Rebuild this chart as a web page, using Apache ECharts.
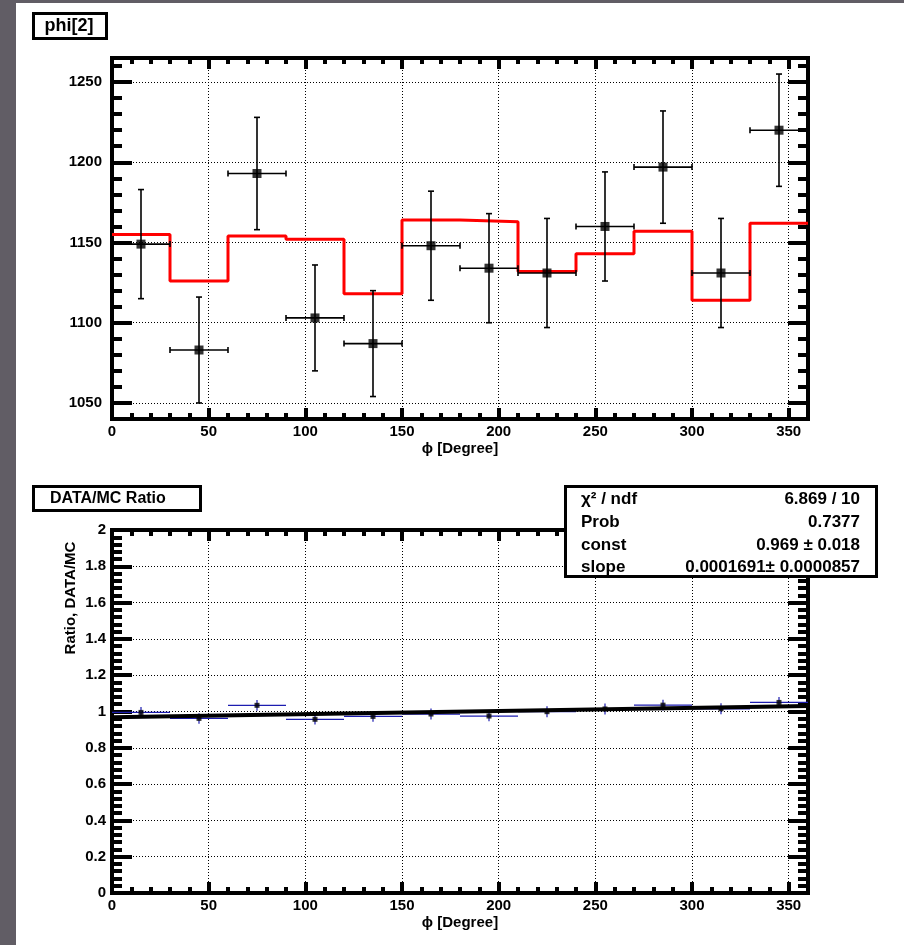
<!DOCTYPE html>
<html>
<head>
<meta charset="utf-8">
<script src="https://cdn.jsdelivr.net/npm/echarts@6/dist/echarts.min.js"></script>
<style>
  html, body { margin: 0; padding: 0; width: 904px; height: 945px; overflow: hidden; background: #615d65; }
  #chart { position: absolute; left: 16px; top: 3px; width: 888px; height: 942px; background: #ffffff; }
</style>
</head>
<body>
<div id="chart"></div>
<script>
// phi bin centres (degrees); every bin is 30 degrees wide
const phiBins = [15, 45, 75, 105, 135, 165, 195, 225, 255, 285, 315, 345];
const binHalfWidth = 15;

// measured counts per phi bin and their statistical errors
const dataCounts = [1149, 1083, 1193, 1103, 1087, 1148, 1134, 1131, 1160, 1197, 1131, 1220];
const dataErrors = [34, 33, 35, 33, 33, 34, 34, 34, 34, 35, 34, 35];

// Monte Carlo expectation per phi bin
const mcCounts = [1155, 1126, 1154, 1152, 1118, 1164, 1163, 1132, 1143, 1157, 1114, 1162];

// DATA/MC ratio per bin with errors
const ratioValues = [0.995, 0.962, 1.034, 0.957, 0.973, 0.986, 0.975, 0.999, 1.014, 1.035, 1.015, 1.050];
const ratioErrors = [0.030, 0.029, 0.030, 0.029, 0.030, 0.030, 0.029, 0.030, 0.030, 0.030, 0.030, 0.030];

// straight-line fit to the ratio: const + slope * phi
const fitConst = 0.969;
const fitSlope = 0.0001691;

// fit statistics box rows
const statsLabels = ['χ² / ndf', 'Prob', 'const', 'slope'];
const statsValues = ['6.869 / 10', '0.7377', '0.969 ± 0.018', '0.0001691± 0.0000857'];

// axis ranges and labelled ticks
const phiRange = [0, 360];
const phiTicks = [0, 50, 100, 150, 200, 250, 300, 350];
const countRange = [1040, 1265];
const countTicks = [1050, 1100, 1150, 1200, 1250];
const ratioRange = [0, 2];
const ratioTicks = [0, 0.2, 0.4, 0.6, 0.8, 1, 1.2, 1.4, 1.6, 1.8, 2];

const FONT = '"Liberation Sans", Arial, Helvetica, sans-serif';
const BLACK = '#000000';

const chart = echarts.init(document.getElementById('chart'), null, { renderer: 'canvas' });

// One framed axis side: a labelled "major" axis plus an overlaid axis carrying the short minor ticks.
function sideAxes(opts) {
  const major = {
    gridIndex: opts.grid,
    type: 'value',
    position: opts.position,
    min: opts.range[0],
    max: opts.range[1],
    axisLine: { show: true, onZero: false, lineStyle: { color: BLACK, width: 4, cap: 'square' } },
    axisTick: { show: true, inside: true, length: opts.majorLen, customValues: opts.ticks,
                lineStyle: { color: BLACK, width: 4 } },
    axisLabel: { show: !!opts.labels, customValues: opts.ticks, margin: opts.labelMargin || 6,
                 formatter: v => String(v),
                 color: BLACK, fontFamily: FONT, fontWeight: 'bold', fontSize: 15 },
    splitLine: { show: !!opts.gridLines, lineStyle: { color: BLACK, width: 1, type: [1, 2] } },
    minorTick: { show: false },
    minorSplitLine: { show: false },
    silent: true
  };
  if (opts.name) {
    major.name = opts.name;
    major.nameLocation = 'middle';
    major.nameGap = opts.nameGap;
    major.nameTextStyle = { color: BLACK, fontFamily: FONT, fontWeight: 'bold', fontSize: 15 };
  }
  const minor = {
    gridIndex: opts.grid,
    type: 'value',
    position: opts.position,
    min: opts.range[0],
    max: opts.range[1],
    interval: opts.minorStep,
    axisLine: { show: false, onZero: false },
    axisTick: { show: true, inside: true, length: opts.minorLen, lineStyle: { color: BLACK, width: 4 } },
    axisLabel: { show: false },
    splitLine: { show: false },
    minorTick: { show: false },
    silent: true
  };
  return [major, minor];
}

const xAxes = [].concat(
  // upper pad
  sideAxes({ grid: 0, position: 'bottom', range: phiRange, ticks: phiTicks, majorLen: 11, minorLen: 6, minorStep: 10,
             labels: true, labelMargin: 5, gridLines: true, name: 'ϕ [Degree]', nameGap: 22 }),
  sideAxes({ grid: 0, position: 'top', range: phiRange, ticks: phiTicks, majorLen: 11, minorLen: 6, minorStep: 10 }),
  // lower pad
  sideAxes({ grid: 1, position: 'bottom', range: phiRange, ticks: phiTicks, majorLen: 11, minorLen: 6, minorStep: 10,
             labels: true, labelMargin: 5, gridLines: true, name: 'ϕ [Degree]', nameGap: 22 }),
  sideAxes({ grid: 1, position: 'top', range: phiRange, ticks: phiTicks, majorLen: 11, minorLen: 6, minorStep: 10 })
);

const yAxes = [].concat(
  sideAxes({ grid: 0, position: 'left', range: countRange, ticks: countTicks, majorLen: 20, minorLen: 10, minorStep: 10,
             labels: true, labelMargin: 10, gridLines: true }),
  sideAxes({ grid: 0, position: 'right', range: countRange, ticks: countTicks, majorLen: 20, minorLen: 10, minorStep: 10 }),
  sideAxes({ grid: 1, position: 'left', range: ratioRange, ticks: ratioTicks, majorLen: 20, minorLen: 10, minorStep: 0.04,
             labels: true, labelMargin: 6, gridLines: true }),
  sideAxes({ grid: 1, position: 'right', range: ratioRange, ticks: ratioTicks, majorLen: 20, minorLen: 10, minorStep: 0.04 })
);
// axis indices: x 0 = upper bottom, x 4 = lower bottom; y 0 = upper left, y 4 = lower left

// Error bars (horizontal: bin width, vertical: statistical error) drawn in data coordinates.
function errorBars(color, width, cap) {
  return function (params, api) {
    const x = api.value(0), y = api.value(1), ex = api.value(2), ey = api.value(3);
    const l = api.coord([x - ex, y]);
    const r = api.coord([x + ex, y]);
    const t = api.coord([x, y + ey]);
    const b = api.coord([x, y - ey]);
    const style = { stroke: color, lineWidth: width, fill: null };
    const seg = (x1, y1, x2, y2) => ({ type: 'line', shape: { x1, y1, x2, y2 }, style });
    const children = [seg(l[0], l[1], r[0], r[1]), seg(t[0], t[1], b[0], b[1])];
    if (cap > 0) {
      children.push(seg(l[0], l[1] - cap, l[0], l[1] + cap));
      children.push(seg(r[0], r[1] - cap, r[0], r[1] + cap));
      children.push(seg(t[0] - cap, t[1], t[0] + cap, t[1]));
      children.push(seg(b[0] - cap, b[1], b[0] + cap, b[1]));
    }
    return { type: 'group', children };
  };
}

// MC histogram as a step outline over the bin edges
const mcStep = phiBins.map((c, i) => [c - binHalfWidth, mcCounts[i]])
  .concat([[phiBins[phiBins.length - 1] + binHalfWidth, mcCounts[mcCounts.length - 1]]]);

const dataErrData = phiBins.map((c, i) => [c, dataCounts[i], binHalfWidth, dataErrors[i]]);
const dataPoints = phiBins.map((c, i) => [c, dataCounts[i]]);
const ratioErrData = phiBins.map((c, i) => [c, ratioValues[i], binHalfWidth, ratioErrors[i]]);
const ratioPoints = phiBins.map((c, i) => [c, ratioValues[i]]);
const fitLine = phiRange.map(p => [p, fitConst + fitSlope * p]);

// Text boxes: pad titles and the fit statistics (kept on their own layer above the plots)
function boxText(x, y, text, size, align) {
  return { type: 'text', x, y, zlevel: 1, z: 101,
    style: { text, fill: BLACK, font: 'bold ' + size + 'px ' + FONT, textAlign: align, textVerticalAlign: 'middle' } };
}
function boxRect(x, y, w, h) {
  return { type: 'rect', zlevel: 1, z: 100, shape: { x, y, width: w, height: h },
    style: { fill: '#ffffff', stroke: BLACK, lineWidth: 3 } };
}

const statsRowsY = [496, 519, 542, 564];
const graphics = [
  boxRect(17.5, 10.5, 73, 25), boxText(53, 23, 'phi[2]', 18, 'center'),
  boxRect(17.5, 483.5, 167, 24), boxText(34, 495.5, 'DATA/MC Ratio', 16, 'left'),
  boxRect(549.5, 483.5, 311, 90)
];
statsLabels.forEach((lab, i) => {
  graphics.push(boxText(565, statsRowsY[i], lab, 17, 'left'));
  graphics.push(boxText(844, statsRowsY[i], statsValues[i], 17, 'right'));
});
graphics.push({ type: 'text', x: 54.5, y: 595, rotation: Math.PI / 2, z: 100,
  style: { text: 'Ratio, DATA/MC', fill: BLACK, font: 'bold 15px ' + FONT, textAlign: 'center', textVerticalAlign: 'middle' } });

const option = {
  animation: false,
  backgroundColor: '#ffffff',
  grid: [
    { left: 96, top: 55, width: 696, height: 361, outerBoundsMode: 'none', containLabel: false },
    { left: 96, top: 527, width: 696, height: 363, outerBoundsMode: 'none', containLabel: false }
  ],
  xAxis: xAxes,
  yAxis: yAxes,
  graphic: graphics,
  series: [
    {
      name: 'MC', type: 'line', xAxisIndex: 0, yAxisIndex: 0, step: 'end', data: mcStep,
      showSymbol: false, symbol: 'none', lineStyle: { color: '#ff0000', width: 3 }, z: 3, silent: true
    },
    {
      name: 'data errors', type: 'custom', xAxisIndex: 0, yAxisIndex: 0, data: dataErrData,
      encode: { x: 0, y: 1 }, renderItem: errorBars('#000000', 1.6, 3), z: 4, silent: true
    },
    {
      name: 'data', type: 'scatter', xAxisIndex: 0, yAxisIndex: 0, data: dataPoints,
      symbol: 'rect', symbolSize: 9, itemStyle: { color: BLACK }, z: 5, silent: true
    },
    {
      name: 'ratio errors', type: 'custom', xAxisIndex: 4, yAxisIndex: 4, data: ratioErrData,
      encode: { x: 0, y: 1 }, renderItem: errorBars('#1c1cb0', 1.2, 0), z: 4, silent: true
    },
    {
      name: 'ratio', type: 'scatter', xAxisIndex: 4, yAxisIndex: 4, data: ratioPoints,
      symbol: 'rect', symbolSize: 5, itemStyle: { color: BLACK }, z: 5, silent: true
    },
    {
      name: 'fit', type: 'line', xAxisIndex: 4, yAxisIndex: 4, data: fitLine,
      showSymbol: false, symbol: 'none', lineStyle: { color: BLACK, width: 4 }, z: 6, silent: true
    }
  ]
};

chart.setOption(option);
</script>
</body>
</html>
